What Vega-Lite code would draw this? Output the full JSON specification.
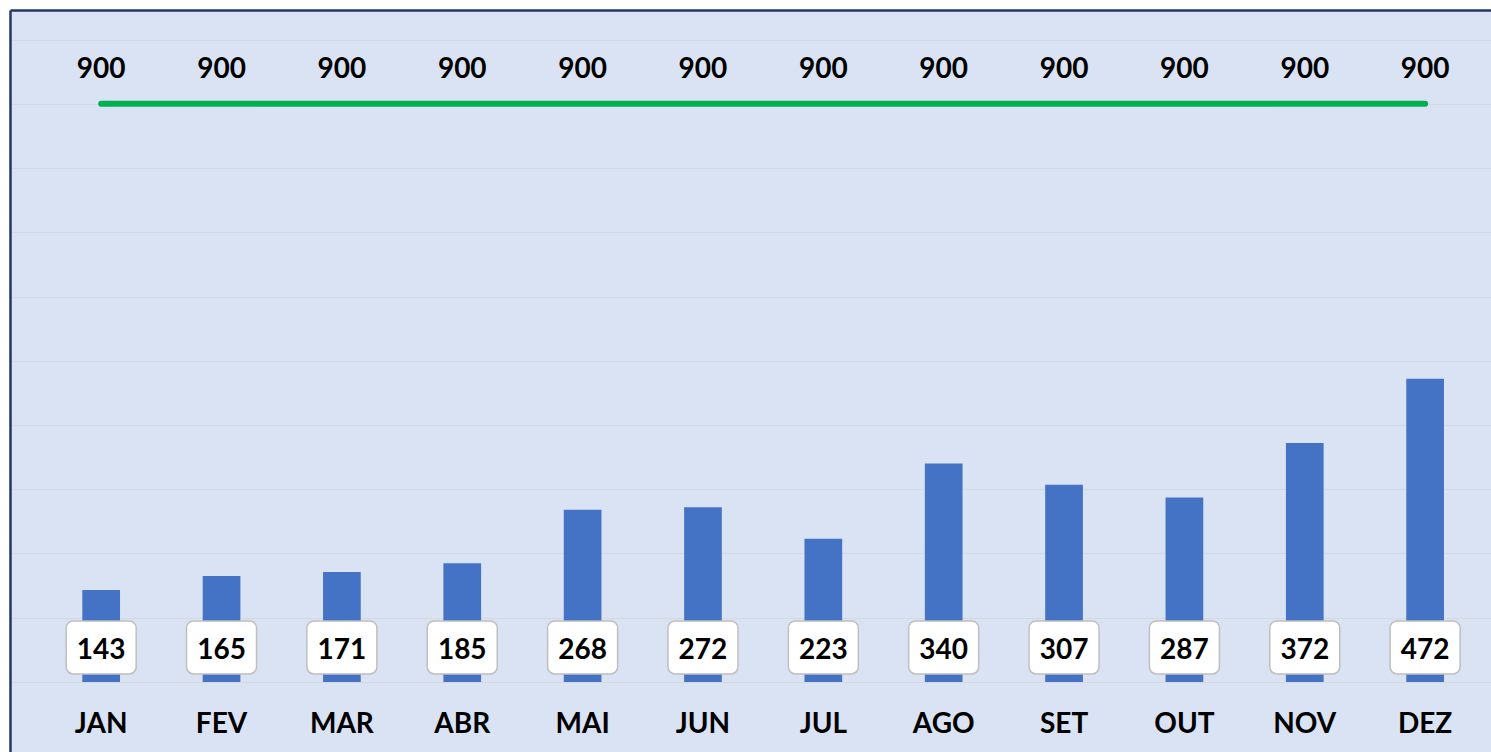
{
  "$schema": "https://vega.github.io/schema/vega-lite/v6.json",
  "width": 1481,
  "height": 742,
  "padding": {"left": 10, "top": 10, "right": 0, "bottom": 0},
  "autosize": {"type": "none"},
  "background": "#FFFFFF",
  "config": {"view": {"fill": "#DAE3F3", "stroke": null}, "font": "Lato"},
  "data": {
    "values": [
      {"mes": "JAN", "valor": 143, "meta": 900},
      {"mes": "FEV", "valor": 165, "meta": 900},
      {"mes": "MAR", "valor": 171, "meta": 900},
      {"mes": "ABR", "valor": 185, "meta": 900},
      {"mes": "MAI", "valor": 268, "meta": 900},
      {"mes": "JUN", "valor": 272, "meta": 900},
      {"mes": "JUL", "valor": 223, "meta": 900},
      {"mes": "AGO", "valor": 340, "meta": 900},
      {"mes": "SET", "valor": 307, "meta": 900},
      {"mes": "OUT", "valor": 287, "meta": 900},
      {"mes": "NOV", "valor": 372, "meta": 900},
      {"mes": "DEZ", "valor": 472, "meta": 900}
    ]
  },
  "encoding": {
    "x": {
      "field": "mes",
      "type": "nominal",
      "sort": null,
      "scale": {"paddingInner": 0.6868, "paddingOuter": 0.4958, "align": 0.606},
      "axis": null
    }
  },
  "layer": [
    {
      "mark": {"type": "bar", "color": "#4472C4"},
      "encoding": {
        "y": {
          "field": "valor",
          "type": "quantitative",
          "scale": {"domain": [-109, 1046], "nice": false, "zero": false},
          "axis": {
            "values": [0, 100, 200, 300, 400, 500, 600, 700, 800, 900, 1000, 1046],
            "labels": false,
            "ticks": false,
            "title": null,
            "domain": true,
            "domainColor": "#203864",
            "domainWidth": 2.5,
            "grid": true,
            "gridColor": {"condition": {"test": "datum.value >= 1040", "value": "#203864"}, "value": "#D5D9DF"},
            "gridWidth": {"condition": {"test": "datum.value >= 1040", "value": 2.5}, "value": 1.2}
          }
        },
        "y2": {"datum": 0}
      }
    },
    {
      "mark": {"type": "line", "color": "#00B050", "strokeWidth": 6, "strokeCap": "round"},
      "encoding": {"y": {"field": "meta", "type": "quantitative"}}
    },
    {
      "mark": {"type": "text", "fontSize": 28, "fontWeight": "bold", "color": "#000000", "baseline": "middle"},
      "encoding": {"y": {"datum": 952.5}, "text": {"field": "meta"}}
    },
    {
      "mark": {"type": "bar", "width": 70, "cornerRadius": 7, "fill": "#FFFFFF", "stroke": "#BFBFBF", "strokeWidth": 1.5},
      "encoding": {"y": {"datum": 95}, "y2": {"datum": 12.5}}
    },
    {
      "mark": {"type": "text", "fontSize": 28, "fontWeight": "bold", "color": "#000000", "baseline": "middle"},
      "encoding": {"y": {"datum": 48.5}, "text": {"field": "valor"}}
    },
    {
      "mark": {"type": "text", "fontSize": 28, "fontWeight": "bold", "color": "#000000", "baseline": "middle"},
      "encoding": {"y": {"datum": -66.5}, "text": {"field": "mes"}}
    }
  ]
}
